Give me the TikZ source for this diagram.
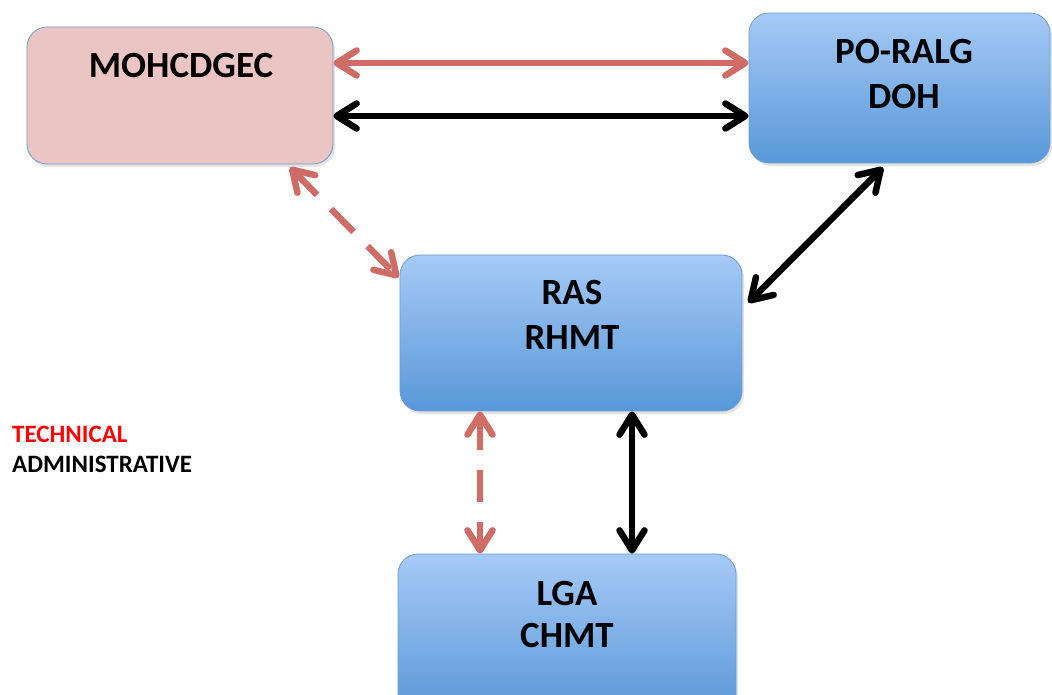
\documentclass[tikz,border=0pt]{standalone}
\usepackage{fontspec}
\setmainfont{Carlito}
\usetikzlibrary{arrows.meta,shadows}
\definecolor{boxtop}{RGB}{166,202,246}
\definecolor{boxbot}{RGB}{88,152,216}
\definecolor{boxline}{RGB}{110,156,210}
\definecolor{pinkfill}{RGB}{235,197,196}
\definecolor{arrred}{RGB}{207,108,102}
\tikzset{
  x=1pt, y=1pt,
  boxbase/.style={rectangle, rounded corners=20pt, draw=boxline, line width=0.8pt, inner sep=0pt,
    drop shadow={opacity=0.22, shadow xshift=2pt, shadow yshift=-3pt}},
  bluebox/.style={boxbase, top color=boxtop, bottom color=boxbot},
  pinkbox/.style={boxbase, fill=pinkfill},
  lbl/.style={font=\fontsize{37}{44}\selectfont\bfseries, anchor=base, inner sep=0pt, text=black},
  legend/.style={font=\fontsize{25}{30}\selectfont\bfseries, anchor=base west, inner sep=0pt},
  mytip/.tip={Straight Barb[length=20pt, width=25pt, round]},
  redarr/.style={draw=arrred, line width=6.5pt, {mytip}-{mytip}},
  blkarr/.style={draw=black, line width=6.5pt, {mytip}-{mytip}},
  reddash/.style={redarr, dash pattern=on 32pt off 20pt},
}
\begin{document}
\begin{tikzpicture}
\useasboundingbox (0,0) rectangle (1052,695);
\clip (0,0) rectangle (1052,695);
\fill[white] (0,0) rectangle (1052,695);

% boxes
\node[pinkbox, minimum width=306pt, minimum height=137pt] (moh) at (180,599.5) {};
\node[bluebox, minimum width=301pt, minimum height=150pt] (po) at (899.5,607) {};
\node[bluebox, minimum width=342pt, minimum height=156pt] (ras) at (571,362) {};
\node[bluebox, minimum width=338pt, minimum height=160pt] (lga) at (567,61) {};

% labels
\node[lbl] (t1) at (181,617) {MOHCDGEC};
\node[lbl] (t2) at (904,631) {PO-RALG};
\node[lbl] (t3) at (904,586) {DOH};
\node[lbl] (t4) at (572,390) {RAS};
\node[lbl] (t5) at (572,345) {RHMT};
\node[lbl] (t6) at (567,89) {LGA};
\node[lbl] (t7) at (567,47) {CHMT};

% legend
\node[legend, text=red] (lt) at (12,252) {TECHNICAL};
\node[legend, text=black] (la) at (12,222) {ADMINISTRATIVE};

% connectors
\draw[redarr] ([yshift=32.5pt]moh.east) -- ([yshift=32.5pt]moh.east -| po.west);
\draw[blkarr] ([yshift=-20.5pt]moh.east) -- ([yshift=-20.5pt]moh.east -| po.west);
\draw[reddash] ([xshift=110pt,yshift=-3pt]moh.south) -- ([xshift=-1pt,yshift=-23pt]ras.north west);
\draw[blkarr] ([xshift=-16.5pt,yshift=-4pt]po.south) -- ([xshift=6pt,yshift=-48pt]ras.north east);
\draw[reddash] ([xshift=-91pt]ras.south) -- ([xshift=-91pt]ras.south |- lga.north);
\draw[blkarr] ([xshift=61pt]ras.south) -- ([xshift=61pt]ras.south |- lga.north);
\end{tikzpicture}
\end{document}
